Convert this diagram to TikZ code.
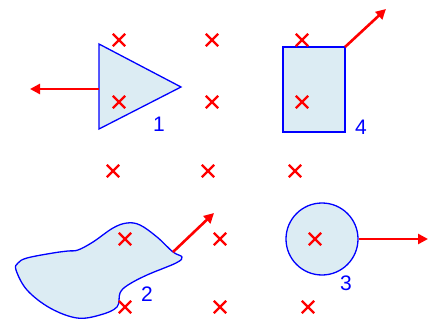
\documentclass[tikz,border=0pt]{standalone}
\usepackage{fontspec}
\setmainfont{Liberation Sans}
\usetikzlibrary{arrows.meta,shapes.misc}

\begin{document}
\begin{tikzpicture}[x=1pt,y=-1pt]
% Define colours
\definecolor{shapefill}{RGB}{220,236,243}
\definecolor{edge}{RGB}{0,0,255}
\definecolor{mark}{RGB}{255,0,0}
\tikzset{
  body/.style={draw=edge,fill=shapefill,line width=1.3pt,line join=miter},
  xmark/.style={cross out,draw=mark,line width=2.3pt,minimum size=10pt,inner sep=0pt},
  push/.style={draw=mark,line width=2.6pt,-{Triangle[length=10pt,width=10pt]}},
  tag/.style={text=edge,font=\fontsize{21}{21}\selectfont,inner sep=0pt}
}
\useasboundingbox (0,0) rectangle (430,320);

% Triangle 1
\draw[body] (99,44) -- (181,87) -- (99,129) -- cycle;
\coordinate (t1) at (99,89);
\coordinate (t1end) at (30,89);
\node[tag] (n1) at (159,124) {1};

% Blob 2
\draw[body] plot[smooth cycle,tension=0.6] coordinates {
  (16,270) (27,290) (50,308) (77,318) (100,315) (117,307) (120,293)
  (128,285) (147,275) (176,263) (182,257) (173,252) (157,237) (140,225)
  (127,223) (113,228) (93,242) (78,250) (68,251) (53,253) (27,258) (18,263)};
\coordinate (b2) at (173,252);
\coordinate (b2end) at (214,213);
\node[tag] (n2) at (147,294) {2};

% Circle 3
\node[body,circle,minimum size=72pt,inner sep=0pt] (c3) at (322,239) {};
\coordinate (c3end) at (428,239);
\node[tag] (n3) at (346,283) {3};

% Rectangle 4
\draw[body] (283,47) rectangle (345,132);
\coordinate (r4) at (345,47);
\coordinate (r4end) at (386,9);
\node[tag] (n4) at (361,127) {4};

% Draw the grid of marks
\foreach \px/\py [count=\i] in {119/40,212/40,302/40,119/102,212/102,302/102,
  113/171,208/171,295/171,125/239,220/239,315/239,125/307,220/307,308/307}
  \node[xmark] (m\i) at (\px,\py) {};

% Add force arrows
\draw[push] (t1) -- (t1end);
\draw[push] (b2) -- (b2end);
\draw[push] (c3.east) -- (c3end);
\draw[push] (r4) -- (r4end);
\end{tikzpicture}
\end{document}
